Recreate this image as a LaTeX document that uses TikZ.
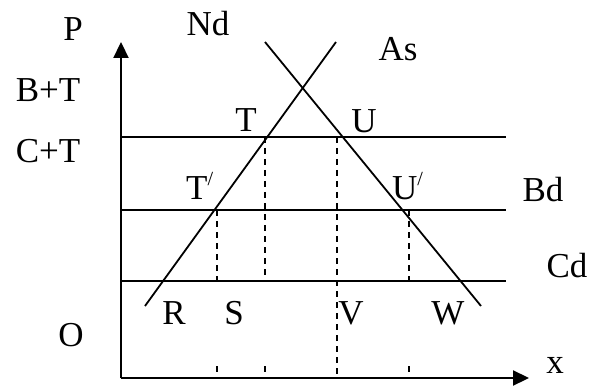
\documentclass[tikz,border=0pt]{standalone}
\usepackage{fontspec}
\setmainfont{Liberation Serif}
\usetikzlibrary{arrows.meta}
\begin{document}
\begin{tikzpicture}[x=1pt,y=-1pt,
  lbl/.style={inner sep=0pt,font=\fontsize{35}{40}\selectfont},
  axis/.style={line width=2.2pt,-{Triangle[length=16pt,width=15pt]}},
  curve/.style={line width=1.8pt},
  price/.style={line width=1.8pt},
  thinprice/.style={line width=1.2pt},
  guide/.style={line width=1.8pt,dash pattern=on 6pt off 5pt}]
\useasboundingbox (0,0) rectangle (593,387);
% coordinates
\coordinate (O) at (121,378);
\coordinate (Ytop) at (121,42);
\coordinate (Xend) at (529,378);
\coordinate (CTl) at (121,137);
\coordinate (CTr) at (506,137);
\coordinate (Bdl) at (121,210);
\coordinate (Bdr) at (506,210);
\coordinate (Cdl) at (121,281);
\coordinate (Cdm) at (145,281);
\coordinate (Cdr) at (506,281);
\coordinate (Sb) at (145,306);
\coordinate (St) at (336,42);
\coordinate (Dt) at (265,42);
\coordinate (Db) at (481,306);
% dashed guide ends
\coordinate (g1t) at (217,210);
\coordinate (g1m) at (217,281);
\coordinate (g1s) at (217,366);
\coordinate (g1b) at (217,378);
\coordinate (g2t) at (265,137);
\coordinate (g2m) at (265,281);
\coordinate (g2s) at (265,366);
\coordinate (g2b) at (265,378);
\coordinate (g3t) at (337,137);
\coordinate (g3b) at (337,378);
\coordinate (g4t) at (409,210);
\coordinate (g4m) at (409,281);
\coordinate (g4s) at (409,366);
\coordinate (g4b) at (409,378);
% axes
\draw[axis] (O) -- (Ytop);
\draw[axis] (O) -- (Xend);
% price lines
\draw[price] (CTl) -- (CTr);
\draw[price] (Bdl) -- (Bdr);
\draw[thinprice] (Cdl) -- (Cdr);
\draw[price] (Cdl) -- (Cdm);
% supply and demand
\draw[curve] (Sb) -- (St);
\draw[curve] (Dt) -- (Db);
% dashed guides
\draw[guide] (g1t) -- (g1m);
\draw[guide] (g1s) -- (g1b);
\draw[guide] (g2t) -- (g2m);
\draw[guide] (g2s) -- (g2b);
\draw[guide] (g3t) -- (g3b);
\draw[guide] (g4t) -- (g4m);
\draw[guide] (g4s) -- (g4b);
% labels
\node[lbl] (lP) at (73,29) {P};
\node[lbl] (lNd) at (208,24) {Nd};
\node[lbl] (lAs) at (398,49) {As};
\node[lbl] (lBT) at (48,90) {B+T};
\node[lbl] (lCT) at (48,151) {C+T};
\node[lbl] (lT) at (246,120) {T};
\node[lbl] (lU) at (364,121) {U};
\node[lbl,anchor=base west] (lTp) at (186,200) {T\raisebox{14pt}{\fontsize{20}{20}\selectfont /}};
\node[lbl,anchor=base west] (lUp) at (392,200) {U\raisebox{14pt}{\fontsize{20}{20}\selectfont /}};
\node[lbl] (lBd) at (543,190) {Bd};
\node[lbl] (lCd) at (567,266) {Cd};
\node[lbl] (lR) at (174,313) {R};
\node[lbl] (lS) at (234,313) {S};
\node[lbl] (lV) at (351,313) {V};
\node[lbl] (lW) at (448,313) {W};
\node[lbl] (lO) at (71,335) {O};
\node[lbl] (lx) at (555,365) {x};
\end{tikzpicture}
\end{document}
